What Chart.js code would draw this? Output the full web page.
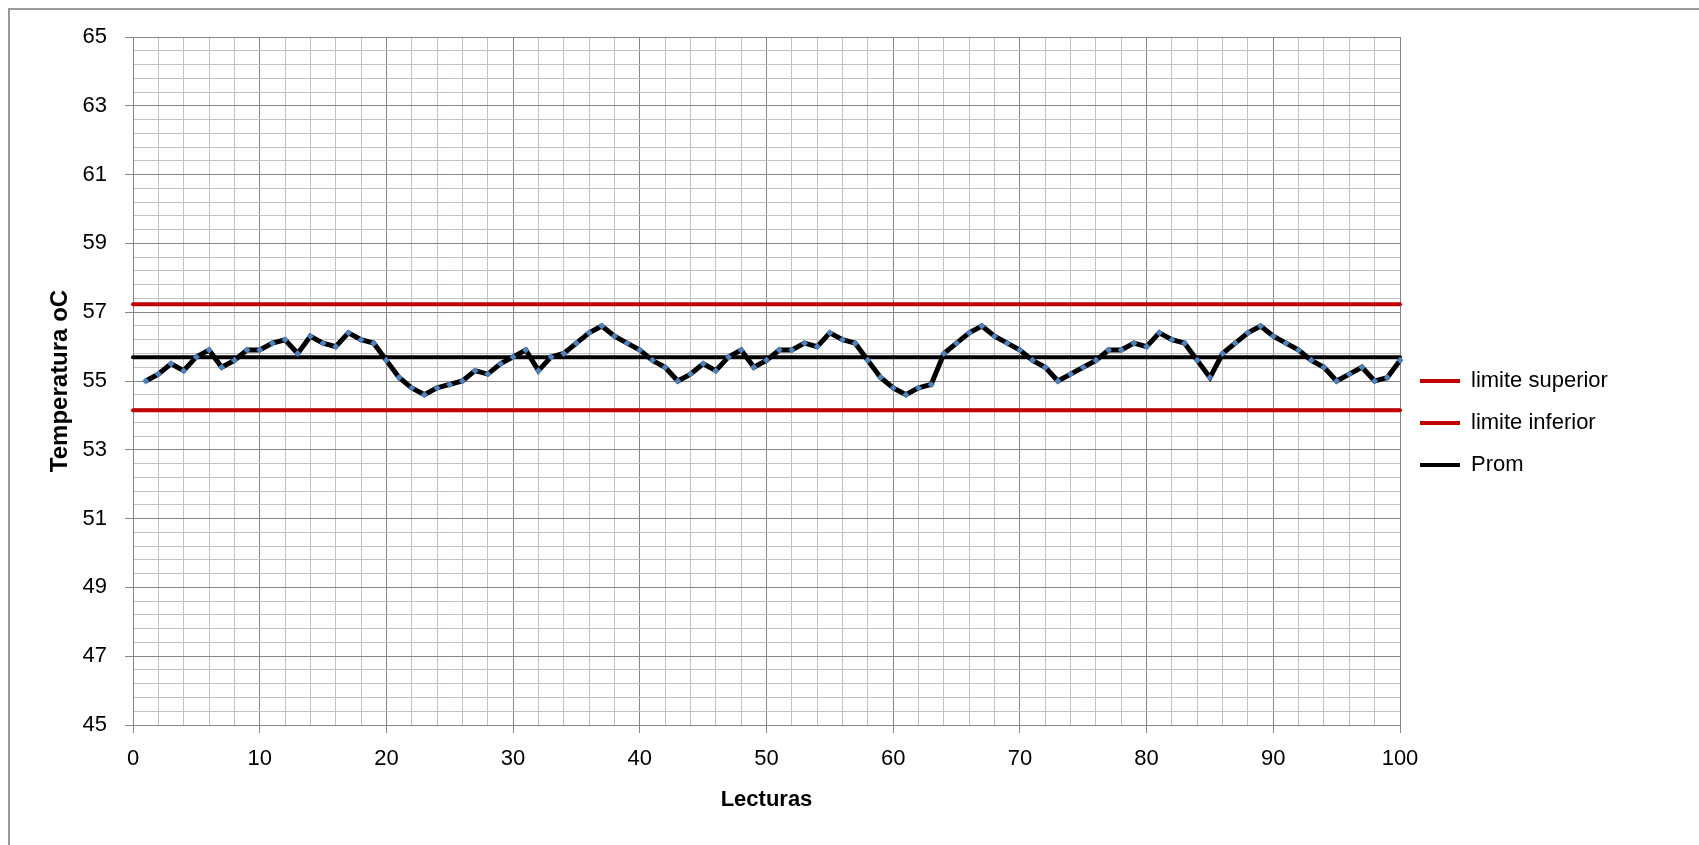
<!DOCTYPE html>
<html>
<head>
<meta charset="utf-8">
<script src="https://cdn.jsdelivr.net/npm/chart.js@4.4.1/dist/chart.umd.min.js"></script>
<style>
    body { margin: 0; background: #fff; }
    #wrap { position: relative; width: 1699px; height: 845px; overflow: hidden; }
    #frame { position: absolute; left: 8px; top: 8px; width: 1800px; height: 900px; border: 2px solid #9a9a9a; }
    #controlChart { position: absolute; left: 0; top: 0; }
</style>
</head>
<body>
<div id="wrap">
    <div id="frame"></div>
    <canvas id="controlChart" width="1699" height="845"></canvas>
</div>
<script>
// lecturas (eje x) y temperaturas leidas
const lecturas = [
    1, 2, 3, 4, 5, 6, 7, 8, 9, 10,
    11, 12, 13, 14, 15, 16, 17, 18, 19, 20,
    21, 22, 23, 24, 25, 26, 27, 28, 29, 30,
    31, 32, 33, 34, 35, 36, 37, 38, 39, 40,
    41, 42, 43, 44, 45, 46, 47, 48, 49, 50,
    51, 52, 53, 54, 55, 56, 57, 58, 59, 60,
    61, 62, 63, 64, 65, 66, 67, 68, 69, 70,
    71, 72, 73, 74, 75, 76, 77, 78, 79, 80,
    81, 82, 83, 84, 85, 86, 87, 88, 89, 90,
    91, 92, 93, 94, 95, 96, 97, 98, 99, 100
];
const temperaturas = [
    55.0, 55.2, 55.5, 55.3, 55.7, 55.9, 55.4, 55.6, 55.9, 55.9,
    56.1, 56.2, 55.8, 56.3, 56.1, 56.0, 56.4, 56.2, 56.1, 55.6,
    55.1, 54.8, 54.6, 54.8, 54.9, 55.0, 55.3, 55.2, 55.5, 55.7,
    55.9, 55.3, 55.7, 55.8, 56.1, 56.4, 56.6, 56.3, 56.1, 55.9,
    55.6, 55.4, 55.0, 55.2, 55.5, 55.3, 55.7, 55.9, 55.4, 55.6,
    55.9, 55.9, 56.1, 56.0, 56.4, 56.2, 56.1, 55.6, 55.1, 54.8,
    54.6, 54.8, 54.9, 55.8, 56.1, 56.4, 56.6, 56.3, 56.1, 55.9,
    55.6, 55.4, 55.0, 55.2, 55.4, 55.6, 55.9, 55.9, 56.1, 56.0,
    56.4, 56.2, 56.1, 55.6, 55.1, 55.8, 56.1, 56.4, 56.6, 56.3,
    56.1, 55.9, 55.6, 55.4, 55.0, 55.2, 55.4, 55.0, 55.1, 55.6
];

// lineas de control, de x = 0 a x = 100
const limiteX = [0, 100];
const limiteSuperior = 57.23;
const limiteInferior = 54.15;
const promedio = 55.69;

const seriesLabels = ["Temperatura", "limite superior", "limite inferior", "Prom"];

const FONT = "'Liberation Sans', Arial, sans-serif";
const MAJOR = "#868686";
const MINOR = "#c2c2c2";

function isMultiple(v, base, step) {
    const r = (v - base) / step;
    return Math.abs(r - Math.round(r)) < 1e-6;
}

const seriesPoints = lecturas.map((x, i) => ({ x: x, y: temperaturas[i] }));
const flatLine = value => limiteX.map(x => ({ x: x, y: value }));

// fija el ancho de la leyenda para que el area de trazado termine en x=100
const legendWidth = {
    id: "legendWidth",
    beforeLayout(chart) {
        const legend = chart.legend;
        if (!legend || legend._fixed) return;
        const fit = legend.fit;
        legend.fit = function () {
            fit.call(this);
            this.width = 299;
        };
        legend._fixed = true;
    }
};

Chart.defaults.font.family = FONT;
Chart.defaults.color = "#000";

const ctx = document.getElementById("controlChart").getContext("2d");

new Chart(ctx, {
    type: "line",
    data: {
        datasets: [
            {
                label: seriesLabels[0],
                data: seriesPoints,
                borderColor: "#000000",
                borderWidth: 5,
                pointStyle: "rectRot",
                pointRadius: 3.5,
                pointBackgroundColor: "#4f81bd",
                pointBorderColor: "#4f81bd",
                pointBorderWidth: 0,
                clip: false
            },
            {
                label: seriesLabels[1],
                data: flatLine(limiteSuperior),
                borderColor: "#c00000",
                borderWidth: 4,
                borderCapStyle: "round",
                pointRadius: 0,
                clip: false
            },
            {
                label: seriesLabels[2],
                data: flatLine(limiteInferior),
                borderColor: "#c00000",
                borderWidth: 4,
                borderCapStyle: "round",
                pointRadius: 0,
                clip: false
            },
            {
                label: seriesLabels[3],
                data: flatLine(promedio),
                borderColor: "#000000",
                borderWidth: 4,
                borderCapStyle: "round",
                pointRadius: 0,
                clip: false
            }
        ]
    },
    options: {
        responsive: false,
        animation: false,
        layout: { padding: { top: 37, left: 0, right: 0, bottom: 36 } },
        plugins: {
            tooltip: { enabled: false },
            legend: {
                position: "right",
                labels: {
                    usePointStyle: true,
                    pointStyle: "line",
                    pointStyleWidth: 40,
                    padding: 20,
                    font: { size: 22 },
                    color: "#000",
                    filter: item => item.datasetIndex !== 0
                }
            }
        },
        scales: {
            x: {
                type: "linear",
                min: 0,
                max: 100,
                afterFit: scale => { scale.height = 84; },
                border: { display: true, color: MAJOR, width: 1 },
                grid: {
                    color: c => isMultiple(c.tick.value, 0, 10) ? MAJOR : MINOR,
                    tickColor: c => isMultiple(c.tick.value, 0, 10) ? MAJOR : "rgba(0,0,0,0)",
                    tickLength: 8,
                    lineWidth: 1
                },
                ticks: {
                    stepSize: 2,
                    autoSkip: false,
                    maxRotation: 0,
                    padding: 13,
                    font: { size: 22 },
                    callback: v => isMultiple(v, 0, 10) ? String(Math.round(v)) : ""
                },
                title: {
                    display: true,
                    text: "Lecturas",
                    font: { size: 22, weight: "bold", lineHeight: 0.8 },
                    padding: { top: 0, bottom: 0 }
                }
            },
            y: {
                min: 45,
                max: 65,
                afterFit: scale => { scale.width = 133; },
                border: { display: true, color: MAJOR, width: 1 },
                grid: {
                    color: c => isMultiple(c.tick.value, 45, 2) ? MAJOR : MINOR,
                    tickColor: c => isMultiple(c.tick.value, 45, 2) ? MAJOR : "rgba(0,0,0,0)",
                    tickLength: 8,
                    lineWidth: 1
                },
                ticks: {
                    stepSize: 0.4,
                    autoSkip: false,
                    padding: 18,
                    font: { size: 22 },
                    callback: v => isMultiple(v, 45, 2) ? String(Math.round(v)) : ""
                },
                title: {
                    display: true,
                    text: "Temperatura oC",
                    font: { size: 24, weight: "bold" },
                    padding: { top: 46, bottom: 0 }
                }
            }
        }
    },
    plugins: [legendWidth]
});
</script>
</body>
</html>
